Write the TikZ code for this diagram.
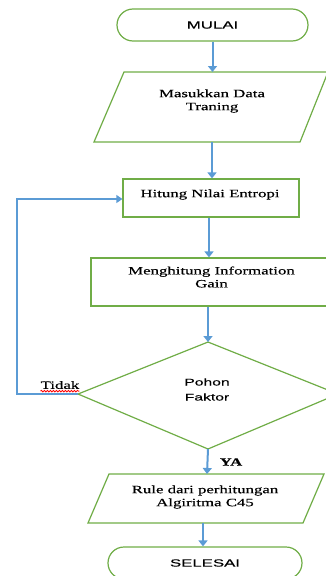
\documentclass[tikz,border=0pt]{standalone}
\usepackage{fontspec}
\setmainfont{Liberation Serif}[FakeStretch=1.5,FakeBold=0.4]
\newfontfamily\sfx{Liberation Sans}[FakeStretch=1.6,FakeBold=0.3]
\usetikzlibrary{arrows.meta,decorations.pathmorphing}
\definecolor{gr}{HTML}{70AD47}
\definecolor{bl}{HTML}{5B9BD5}
\begin{document}
\begin{tikzpicture}[x=1pt,y=-1pt,
  box/.style={draw=gr, line width=1.2pt},
  rectbox/.style={box, inner sep=0pt},
  term/.style={box, rounded corners=16pt, minimum height=32pt, inner sep=0pt,
    font=\sfx\fontsize{10.5}{12}\selectfont},
  lbl/.style={font=\fontsize{11.2}{13}\selectfont, align=center, inner sep=0pt},
  sflbl/.style={font=\sfx\fontsize{9.8}{15}\selectfont, align=center, inner sep=0pt},
  arr/.style={draw=bl, line width=2pt, -{Triangle[width=9pt,length=6pt]}},
  looparr/.style={draw=bl, line width=1.2pt, -{Triangle[width=8pt,length=6pt]}}]
\clip (0,0) rectangle (326,576);
% start
\node[term, minimum width=191pt] (mulai) at (212.5,25) {MULAI};
% input data
\draw[box] (94,142) -- (124,72) -- (328,72) -- (300,142) -- cycle;
\coordinate (datain) at (212.5,72);
\coordinate (dataout) at (212,142);
\node[lbl] (data) at (212,101) {Masukkan Data\\Traning};
% entropy
\node[rectbox, minimum width=176pt, minimum height=38pt] (hitung) at (211,198) {};
\node[lbl] (hitungt) at (210,194.5) {Hitung Nilai Entropi};
% gain
\node[rectbox, minimum width=239pt, minimum height=48pt] (gain) at (210.5,282) {};
\node[lbl] (gaint) at (211.5,277) {Menghitung Information\\Gain};
% decision
\coordinate (dtop) at (208,342);
\coordinate (dright) at (338,394);
\coordinate (dbot) at (208,449);
\coordinate (dleft) at (78,394);
\draw[box] (dtop) -- (dright) -- (dbot) -- (dleft) -- cycle;
\node[sflbl] (pohon) at (207,389.5) {Pohon\\Faktor};
% rule
\draw[box] (88,523) -- (109,474) -- (324,474) -- (303,523) -- cycle;
\coordinate (rulein) at (207,474);
\coordinate (ruleout) at (203,523);
\node[lbl] (rule) at (205,497) {Rule dari perhitungan\\Algiritma C45};
% end
\node[term, minimum width=194pt] (selesai) at (205,563) {SELESAI};
% connectors
\draw[arr] (mulai.south) -- (datain);
\draw[arr] (dataout) -- (dataout |- hitung.north);
\draw[arr] ([xshift=-2pt]hitung.south) -- ([xshift=-2pt]hitung.south |- gain.north);
\draw[arr] (gain.south -| dtop) -- (dtop);
\draw[arr] (dbot) -- (rulein);
\draw[arr] (ruleout) -- (ruleout |- selesai.north);
\draw[looparr] (dleft) -- ++(-61,0) |- ([yshift=-1pt]hitung.west);
% labels
\node[lbl] (tidak) at (60,385) {Tidak};
\draw[red, line width=0.8pt, decorate, decoration={snake, amplitude=0.8pt, segment length=3pt}]
  ([yshift=-2pt]tidak.south west) -- ([yshift=-2pt]tidak.south east);
\node[lbl, font=\bfseries\fontsize{11}{13}\selectfont] (ya) at (231,462) {YA};
\end{tikzpicture}
\end{document}
